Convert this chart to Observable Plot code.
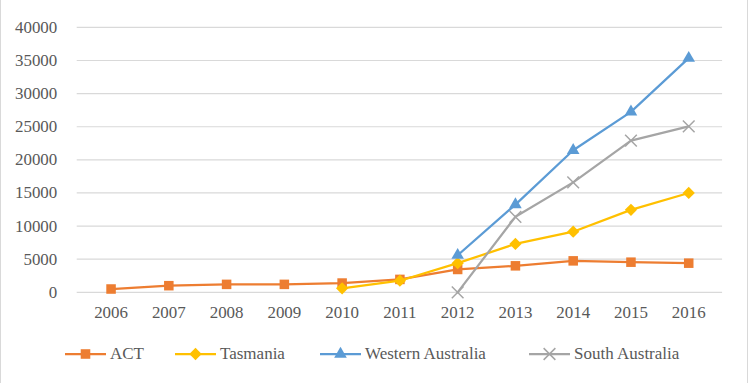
<!DOCTYPE html>
<html>
<head>
<meta charset="utf-8">
<script src="https://cdn.jsdelivr.net/npm/d3@7"></script>
<script src="https://cdn.jsdelivr.net/npm/@observablehq/plot@0.6"></script>
<style>
  html, body { margin: 0; padding: 0; background: #fff; }
  #frame { position: relative; width: 748px; height: 383px; box-sizing: border-box; border-left: 1px solid #d9d9d9; border-right: 1px solid #d9d9d9; background: #fff; overflow: hidden; }
  #chart { position: absolute; left: -1px; top: 0; }
  #chart svg, #chart svg text { font-family: 'Liberation Serif', 'Times New Roman', serif !important; font-size: 17px !important; }
  #legend { position: absolute; left: -1px; top: 343px; width: 750px; height: 22px; font-family: 'Liberation Serif', 'Times New Roman', serif; font-size: 17px; color: #595959; }
  .item { position: absolute; top: 0; display: flex; align-items: center; height: 22px; }
  .item svg { margin-right: 4px; }
</style>
</head>
<body>
<div id="frame">
  <div id="chart"></div>
  <div id="legend"></div>
</div>
<script>
const years = ["2006","2007","2008","2009","2010","2011","2012","2013","2014","2015","2016"];
const act              = [500, 1000, 1200, 1200, 1400, 1950, 3450, 4000, 4750, 4550, 4400];
const tasmania         = [null, null, null, null, 600, 1750, 4400, 7300, 9150, 12450, 15000];
const westernAustralia = [null, null, null, null, null, null, 5600, 13250, 21450, 27250, 35350];
const southAustralia   = [null, null, null, null, null, null, 0, 11400, 16600, 22900, 25050];
const yTicks = [0, 5000, 10000, 15000, 20000, 25000, 30000, 35000, 40000];

const seriesNames  = ["ACT", "Tasmania", "Western Australia", "South Australia"];
const seriesValues = [act, tasmania, westernAustralia, southAustralia];
const seriesColors = ["#ED7D31", "#FFC000", "#5B9BD5", "#A5A5A5"];

// Excel-like diamond (square rotated 45deg)
const diamondSq = { draw(ctx, size) { const r = Math.sqrt(size / 2); ctx.moveTo(0, -r); ctx.lineTo(r, 0); ctx.lineTo(0, r); ctx.lineTo(-r, 0); ctx.closePath(); } };
const seriesSymbols = ["square", diamondSq, "triangle", "times"];
const seriesR = [5.4, 4.9, 4.7, 5.4];

const rows = seriesNames.map((name, i) =>
  years.map((year, j) => ({ series: name, year, value: seriesValues[i][j] })).filter(d => d.value != null)
);

const marks = [
  Plot.gridY(yTicks, { stroke: "#d9d9d9", strokeOpacity: 1, strokeWidth: 1.2 })
];
rows.forEach((data, i) => {
  marks.push(Plot.line(data, { x: "year", y: "value", stroke: seriesColors[i], strokeWidth: 2.25 }));
  if (seriesSymbols[i] === "times") {
    marks.push(Plot.dot(data, { x: "year", y: "value", symbol: () => "times", r: seriesR[i], stroke: seriesColors[i], strokeWidth: 1.5, fill: "none" }));
  } else {
    marks.push(Plot.dot(data, { x: "year", y: "value", symbol: () => seriesSymbols[i], r: seriesR[i], fill: seriesColors[i], stroke: "none" }));
  }
});

const chart = Plot.plot({
  width: 750,
  height: 330,
  marginLeft: 77,
  marginRight: 25,
  marginTop: 27,
  marginBottom: 37,
  style: "font-family: 'Liberation Serif', 'Times New Roman', serif; font-size: 17px; color: #595959; background: transparent; overflow: visible;",
  x: { type: "point", domain: years, padding: 0.5, label: null, tickSize: 0, tickPadding: 14 },
  y: { domain: [0, 40000], ticks: yTicks, tickFormat: d3.format("d"), label: null, tickSize: 0, tickPadding: 20 },
  marks
});
document.getElementById("chart").appendChild(chart);

// Legend (HTML, with line + marker swatches)
const legendLefts = [65, 175, 320, 529];
const legend = document.getElementById("legend");
seriesNames.forEach((name, i) => {
  const item = document.createElement("div");
  item.className = "item";
  item.style.left = legendLefts[i] + "px";
  const sym = typeof seriesSymbols[i] === "string"
    ? { square: d3.symbolSquare, triangle: d3.symbolTriangle, times: d3.symbolTimes }[seriesSymbols[i]]
    : seriesSymbols[i];
  const size = seriesR[i] * seriesR[i] * Math.PI;
  const path = d3.symbol(sym, size)();
  const isTimes = seriesSymbols[i] === "times";
  item.innerHTML =
    `<svg width="41" height="22" viewBox="0 0 41 22">` +
    `<line x1="0" x2="41" y1="11" y2="11" stroke="${seriesColors[i]}" stroke-width="2.25"/>` +
    `<path transform="translate(20.5,11)" d="${path}" ${isTimes ? `fill="none" stroke="${seriesColors[i]}" stroke-width="1.5"` : `fill="${seriesColors[i]}"`}/>` +
    `</svg><span>${name}</span>`;
  legend.appendChild(item);
});
</script>
</body>
</html>
